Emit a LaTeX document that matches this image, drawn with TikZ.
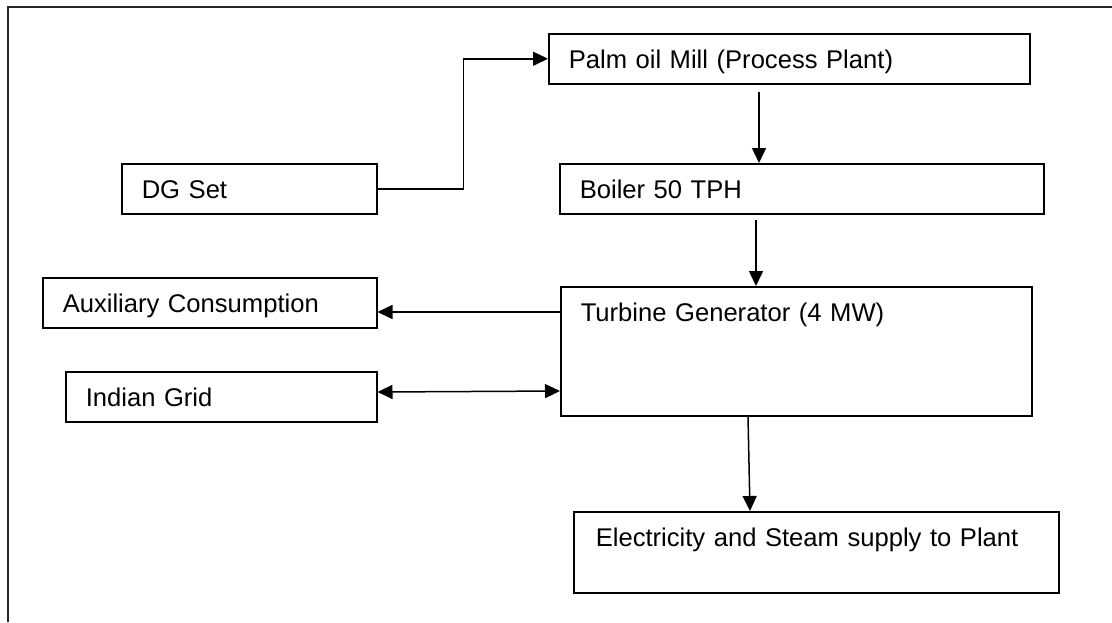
\documentclass[tikz,border=0pt]{standalone}
\usepackage{fontspec}
\setmainfont{Liberation Sans}
\usetikzlibrary{arrows.meta}

\tikzset{
  blk/.style={draw, line width=0.75pt, inner xsep=10pt, inner ysep=7.5pt,
    text height=10pt, text depth=0pt, align=left, anchor=north west,
    font=\fontsize{12.8}{15.5}\selectfont},
  arr/.style={line width=0.75pt, -{Triangle[length=7.5pt,width=7pt]}},
  dbl/.style={line width=0.75pt, {Triangle[length=7.5pt,width=7pt]}-{Triangle[length=7.5pt,width=7pt]}},
  frame/.style={line width=1pt, draw=black!85}
}

\begin{document}
\begin{tikzpicture}[x=0.5pt,y=-0.5pt]
  \useasboundingbox (0,0) rectangle (1112,622);
  % page frame (cut at right and bottom)
  \draw[frame] (8,622) -- (8,7) -- (1112,7);
  % blocks
  \node[blk, text width=220.5pt] (palm) at (548,33) {Palm oil Mill (Process Plant)};
  \node[blk, text width=107.5pt] (dg) at (121,163) {DG Set};
  \node[blk, text width=222pt] (boiler) at (559,163) {Boiler 50 TPH};
  \node[blk, text width=147pt] (aux) at (42,277) {Auxiliary Consumption};
  \node[blk, text width=215.5pt, text depth=39.5pt] (turb) at (560,286) {Turbine Generator (4 MW)};
  \node[blk, text width=135.5pt] (grid) at (65,371) {Indian Grid};
  \node[blk, text width=220.5pt, inner xsep=11pt, text depth=15.5pt] (elec) at (573,511) {Electricity and Steam supply to Plant};
  % connectors
  \draw[arr] (dg.east) -- ++(86,0) |- (palm.west);
  \draw[arr] ([shift={(211,7)}]palm.south west) coordinate (p1) -- (p1 |- boiler.north);
  \draw[arr] ([shift={(197,5)}]boiler.south west) coordinate (b1) -- (b1 |- turb.north);
  \draw[arr] ([shift={(0,26)}]turb.north west) coordinate (t1) -- (t1 -| aux.east);
  \draw[dbl] ([shift={(0,21)}]grid.north east) -- ([shift={(0,105)}]turb.north west);
  \draw[arr] ([shift={(188,0)}]turb.south west) -- ([shift={(177,0)}]elec.north west);
\end{tikzpicture}
\end{document}
